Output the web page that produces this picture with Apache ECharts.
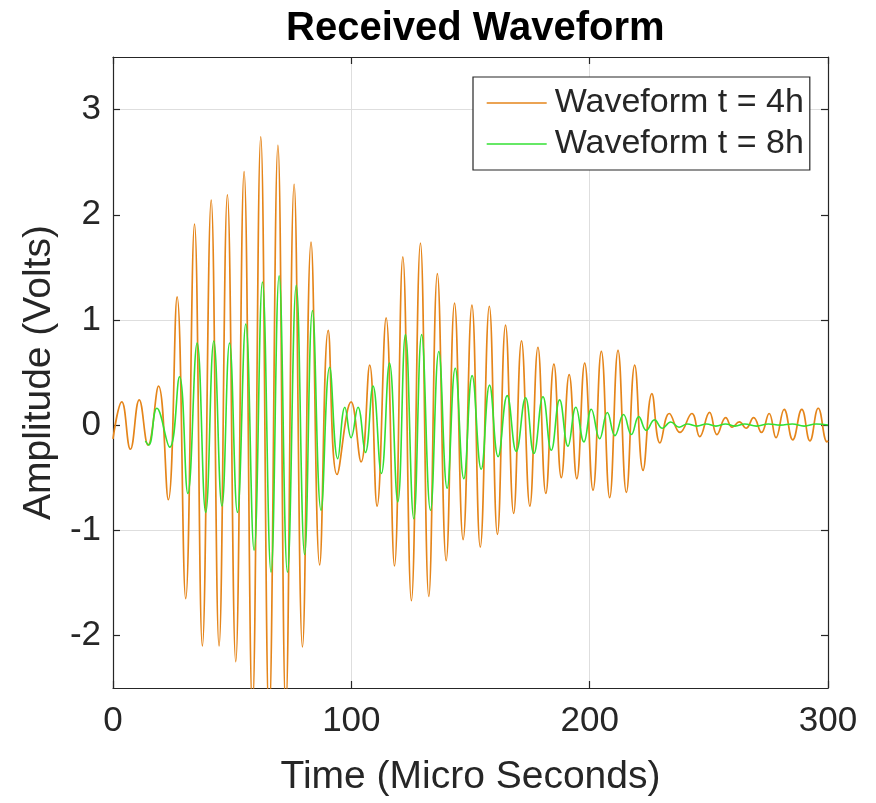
<!DOCTYPE html>
<html>
<head>
<meta charset="utf-8">
<script src="https://cdn.jsdelivr.net/npm/echarts@6/dist/echarts.min.js"></script>
<style>
html,body{margin:0;padding:0;background:#fff;}
#c{width:876px;height:803px;}
</style>
</head>
<body>
<div id="c"></div>
<script>
// ---- data (extrema of each waveform) ----
const seriesNames = ['Waveform t = 4h', 'Waveform t = 8h'];
const xTicks = [0, 100, 200, 300];
const yTicks = [-2, -1, 0, 1, 2, 3];

const wave4hT = [0, 3.7, 7.3, 11.0, 14.7, 19.1, 23.2, 26.9, 30.5, 34.2, 37.5, 41.2, 44.5, 48.0, 51.5, 55.0, 58.5, 62.0, 65.5, 69.2,
  72.5, 76.0, 79.5, 83.1, 86.7, 90.3, 94.0, 99.9, 104.1, 107.7, 110.8, 114.6, 118.1, 121.6, 125.2, 129.0, 132.5, 136.1, 139.8, 143.3,
  146.9, 150.6, 154.1, 157.9, 161.3, 164.7, 168.1, 171.4, 174.9, 178.3, 181.6, 185.0, 188.1, 191.4, 194.6, 197.9, 201.4, 204.9, 208.4, 211.9,
  215.4, 218.9, 222.4, 226.1, 229.5, 233.4, 237.9, 242.9, 246.2, 250.3, 253.4, 257.1, 259.8, 262.8, 265.6, 268.8, 272.1, 275.3, 278.2, 281.6,
  285.2, 289.0, 292.4, 295.9, 299.6, 300];
const wave4hV = [-0.13, 0.22, -0.23, 0.24, -0.19, 0.37, -0.71, 1.22, -1.65, 1.91, -2.10, 2.14, -2.10, 2.19, -2.25, 2.41, -2.70, 2.74, -2.80, 2.66,
  -2.70, 2.29, -2.11, 1.74, -1.33, 0.90, -0.47, 0.22, -0.35, 0.57, -0.77, 1.02, -1.34, 1.60, -1.67, 1.73, -1.63, 1.44, -1.29, 1.16,
  -1.09, 1.14, -1.16, 1.13, -1.04, 0.95, -0.84, 0.80, -0.77, 0.74, -0.65, 0.58, -0.50, 0.48, -0.51, 0.59, -0.62, 0.70, -0.69, 0.71,
  -0.64, 0.57, -0.43, 0.30, -0.17, 0.11, -0.07, 0.11, -0.11, 0.12, -0.09, 0.07, -0.02, 0.03, -0.03, 0.07, -0.07, 0.11, -0.12, 0.15,
  -0.14, 0.15, -0.15, 0.16, -0.16, -0.15];

const wave8hT = [13.6, 15.0, 18.4, 23.8, 27.9, 31.4, 35.3, 38.9, 42.3, 45.7, 48.9, 52.2, 55.7, 59.2, 62.7, 66.3, 69.7, 73.2, 76.9, 80.4,
  83.7, 87.3, 90.9, 94.3, 97.3, 99.9, 102.8, 105.9, 109.1, 112.6, 116.0, 119.5, 122.7, 126.2, 129.5, 133.2, 136.7, 140.2, 143.6, 147.2,
  150.7, 154.5, 158.0, 161.6, 165.4, 169.2, 173.1, 176.6, 180.4, 183.9, 187.4, 190.9, 194.2, 197.6, 200.7, 204.2, 207.4, 210.6, 214.2, 217.5,
  220.6, 223.8, 227.2, 230.5, 234.0, 237.5, 241, 245, 249, 253, 257, 261, 265, 270, 275, 280, 285, 290, 295, 300];
const wave8hV = [-0.15, -0.19, 0.16, -0.21, 0.46, -0.65, 0.78, -0.83, 0.80, -0.77, 0.78, -0.83, 0.96, -1.19, 1.36, -1.40, 1.42, -1.40, 1.33, -1.23,
  1.09, -0.81, 0.55, -0.32, 0.17, -0.12, 0.17, -0.26, 0.37, -0.46, 0.59, -0.73, 0.86, -0.89, 0.86, -0.81, 0.70, -0.60, 0.54, -0.51,
  0.47, -0.42, 0.38, -0.30, 0.28, -0.25, 0.26, -0.27, 0.27, -0.24, 0.24, -0.20, 0.17, -0.16, 0.15, -0.13, 0.12, -0.10, 0.10, -0.09,
  0.08, -0.05, 0.05, -0.03, 0.03, -0.02, 0.01, -0.01, 0.01, -0.01, 0.01, -0.01, 0.01, -0.01, 0.01, 0.0, 0.01, -0.01, 0.01, 0.0];

const pairs = (t, v) => t.map((x, i) => [x, v[i]]);

const FONT = 'Arial, "Liberation Sans", Helvetica, sans-serif';
const TXT = '#262626';
const GRID = '#dedede';
const ORANGE = '#e5851a';
const GREEN = '#33e033';

const chart = echarts.init(document.getElementById('c'), null, {renderer: 'canvas'});

const baseX = {
  type: 'value', min: 0, max: 300, interval: 100,
  axisLine: {show: true, onZero: false, lineStyle: {color: TXT, width: 1.2}},
  axisTick: {show: true, inside: true, length: 7, lineStyle: {color: TXT, width: 1.2}},
};
const baseY = {
  type: 'value', min: -2.5, max: 3.5, interval: 0.5,
  axisLine: {show: true, onZero: false, lineStyle: {color: TXT, width: 1.2}},
  axisTick: {show: true, inside: true, length: 7, customValues: yTicks, lineStyle: {color: TXT, width: 1.2}},
};

const option = {
  backgroundColor: '#ffffff',
  animation: false,
  title: {
    text: 'Received Waveform', left: 281, top: 4,
    textStyle: {fontFamily: FONT, fontWeight: 'bold', fontSize: 40, color: '#000'}
  },
  grid: {left: 113, right: 48, top: 57, bottom: 115, containLabel: false},
  legend: {
    data: seriesNames,
    orient: 'vertical', left: 473, top: 77,
    backgroundColor: '#fff',
    borderColor: TXT, borderWidth: 1.2,
    padding: [8, 6, 8, 13],
    itemGap: 5, itemWidth: 60, itemHeight: 14,
    itemStyle: {opacity: 0},
    lineStyle: {width: 1.4},
    textStyle: {fontFamily: FONT, fontSize: 34, color: TXT, lineHeight: 36, padding: [0, 0, 0, 3]}
  },
  xAxis: [
    Object.assign({}, baseX, {
      position: 'bottom',
      name: 'Time (Micro Seconds)', nameLocation: 'middle', nameGap: 70,
      nameTextStyle: {fontFamily: FONT, fontSize: 39, color: TXT},
      axisLabel: {show: true, margin: 16, fontFamily: FONT, fontSize: 35, color: TXT, customValues: xTicks},
      splitLine: {show: true, lineStyle: {color: GRID, width: 1}}
    }),
    Object.assign({}, baseX, {
      position: 'top', axisLabel: {show: false}, splitLine: {show: false}
    })
  ],
  yAxis: [
    Object.assign({}, baseY, {
      position: 'left',
      name: 'Amplitude (Volts)', nameLocation: 'middle', nameGap: 51, nameRotate: 90,
      nameTextStyle: {fontFamily: FONT, fontSize: 39, color: TXT},
      axisLabel: {
        show: true, margin: 12, fontFamily: FONT, fontSize: 35, color: TXT, customValues: yTicks,
        formatter: v => (Math.abs(v - Math.round(v)) < 1e-6 ? String(Math.round(v)) : '')
      },
      splitLine: {show: true, lineStyle: {color: ['rgba(0,0,0,0)', GRID], width: 1}}
    }),
    Object.assign({}, baseY, {
      position: 'right', axisLabel: {show: false}, splitLine: {show: false}
    })
  ],
  series: [
    {
      name: seriesNames[0], type: 'line', xAxisIndex: 0, yAxisIndex: 0,
      data: pairs(wave4hT, wave4hV),
      symbol: 'none', smooth: 0.45, clip: true,
      lineStyle: {color: ORANGE, width: 1.7},
      itemStyle: {color: ORANGE}
    },
    {
      name: seriesNames[1], type: 'line', xAxisIndex: 0, yAxisIndex: 0,
      data: pairs(wave8hT, wave8hV),
      symbol: 'none', smooth: 0.45, clip: true,
      lineStyle: {color: GREEN, width: 1.6},
      itemStyle: {color: GREEN}
    }
  ]
};
chart.setOption(option);
</script>
</body>
</html>
